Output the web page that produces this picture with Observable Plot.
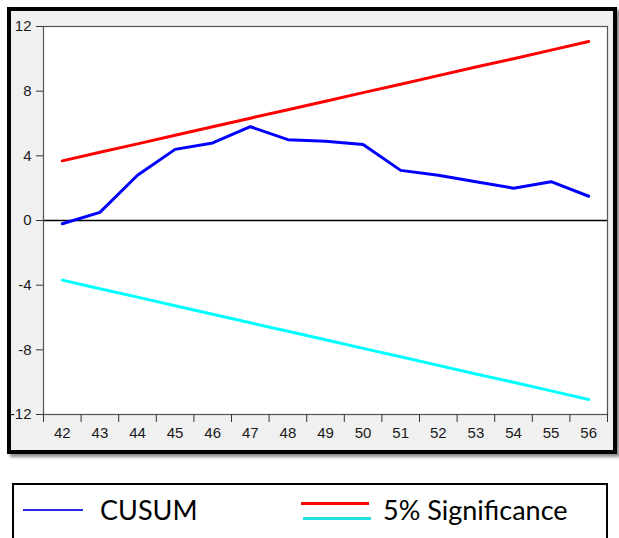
<!DOCTYPE html>
<html><head><meta charset="utf-8">
<script src="https://cdn.jsdelivr.net/npm/d3@7"></script>
<script src="https://cdn.jsdelivr.net/npm/@observablehq/plot@0.6"></script>
<style>
body{margin:0;background:#fff;width:619px;height:538px;overflow:hidden;position:relative;font-family:"Liberation Sans",Arial,sans-serif}
#frame{position:absolute;left:7px;top:7px;width:602px;height:439px;border:4px solid #000;background:#f0f0f0;box-shadow:3px 3px 3px rgba(0,0,0,0.45)}
#chart{position:absolute;left:0;top:0}
#legend{position:absolute;left:12px;top:483px;width:592px;height:80px;border:2px solid #000;background:#fff;font-family:Lato,"Open Sans",sans-serif;font-size:27px;color:#000}
#legend .sw{position:absolute}
#legend .lab{position:absolute;line-height:1}
</style></head><body>
<div id="frame"></div><div id="chart"></div>
<div id="legend"></div>
<script>
const years = [42,43,44,45,46,47,48,49,50,51,52,53,54,55,56];
const cusum = [-0.2,0.5,2.8,4.4,4.8,5.8,5.0,4.9,4.7,3.1,2.8,2.4,2.0,2.4,1.5];
const upper = [3.69,4.22,4.74,5.27,5.80,6.33,6.85,7.38,7.91,8.43,8.96,9.49,10.01,10.54,11.07];
const lower = [-3.69,-4.22,-4.74,-5.27,-5.80,-6.33,-6.85,-7.38,-7.91,-8.43,-8.96,-9.49,-10.01,-10.54,-11.07];
const yTicks = [-12,-8,-4,0,4,8,12];
const legendLabels = ["CUSUM","5% Significance"];

const rows = years.map((t,i)=>({t, cusum:cusum[i], upper:upper[i], lower:lower[i]}));
const bounds = years.map(d=>d-0.5).concat([years[years.length-1]+0.5]);

const chart = Plot.plot({
  width: 619, height: 460,
  marginLeft: 43, marginRight: 12, marginTop: 26, marginBottom: 46,
  style: {background:"transparent", fontFamily:"'Liberation Sans', Arial, sans-serif", fontSize:"15px", color:"#1a1a1a"},
  x: {domain:[bounds[0], bounds[bounds.length-1]]},
  y: {domain:[-12,12]},
  marks: [
    Plot.frame({fill:"white", stroke:"none"}),
    Plot.ruleY([0], {stroke:"#000", strokeWidth:1.3}),
    Plot.line(rows, {x:"t", y:"upper", stroke:"#ff0000", strokeWidth:3}),
    Plot.line(rows, {x:"t", y:"lower", stroke:"#00ffff", strokeWidth:3}),
    Plot.line(rows, {x:"t", y:"cusum", stroke:"#0000ff", strokeWidth:3}),
    Plot.frame({stroke:"#555", strokeWidth:1.2}),
    Plot.axisY(yTicks, {tickSize:7, tickPadding:5, tickFormat:d=>String(d), label:null, stroke:"#333"}),
    Plot.axisX(bounds, {tickSize:8, tickFormat:()=>"", label:null, stroke:"#333"}),
    Plot.axisX(years, {tickSize:0, tickPadding:13, tickFormat:d=>String(d), label:null})
  ]
});
document.getElementById("chart").appendChild(chart);

const lg = document.getElementById("legend");
lg.innerHTML = `
<div class="sw" style="left:9px;top:24px;width:60px;height:2px;background:#2b2be6"></div>
<div class="lab" style="left:86px;top:11px">${legendLabels[0]}</div>
<div class="sw" style="left:287px;top:17px;width:68px;height:3px;background:#ff0000"></div>
<div class="sw" style="left:289px;top:32px;width:68px;height:3px;background:#22e0e0"></div>
<div class="lab" style="left:369px;top:11px">${legendLabels[1]}</div>`;
</script>
</body></html>
